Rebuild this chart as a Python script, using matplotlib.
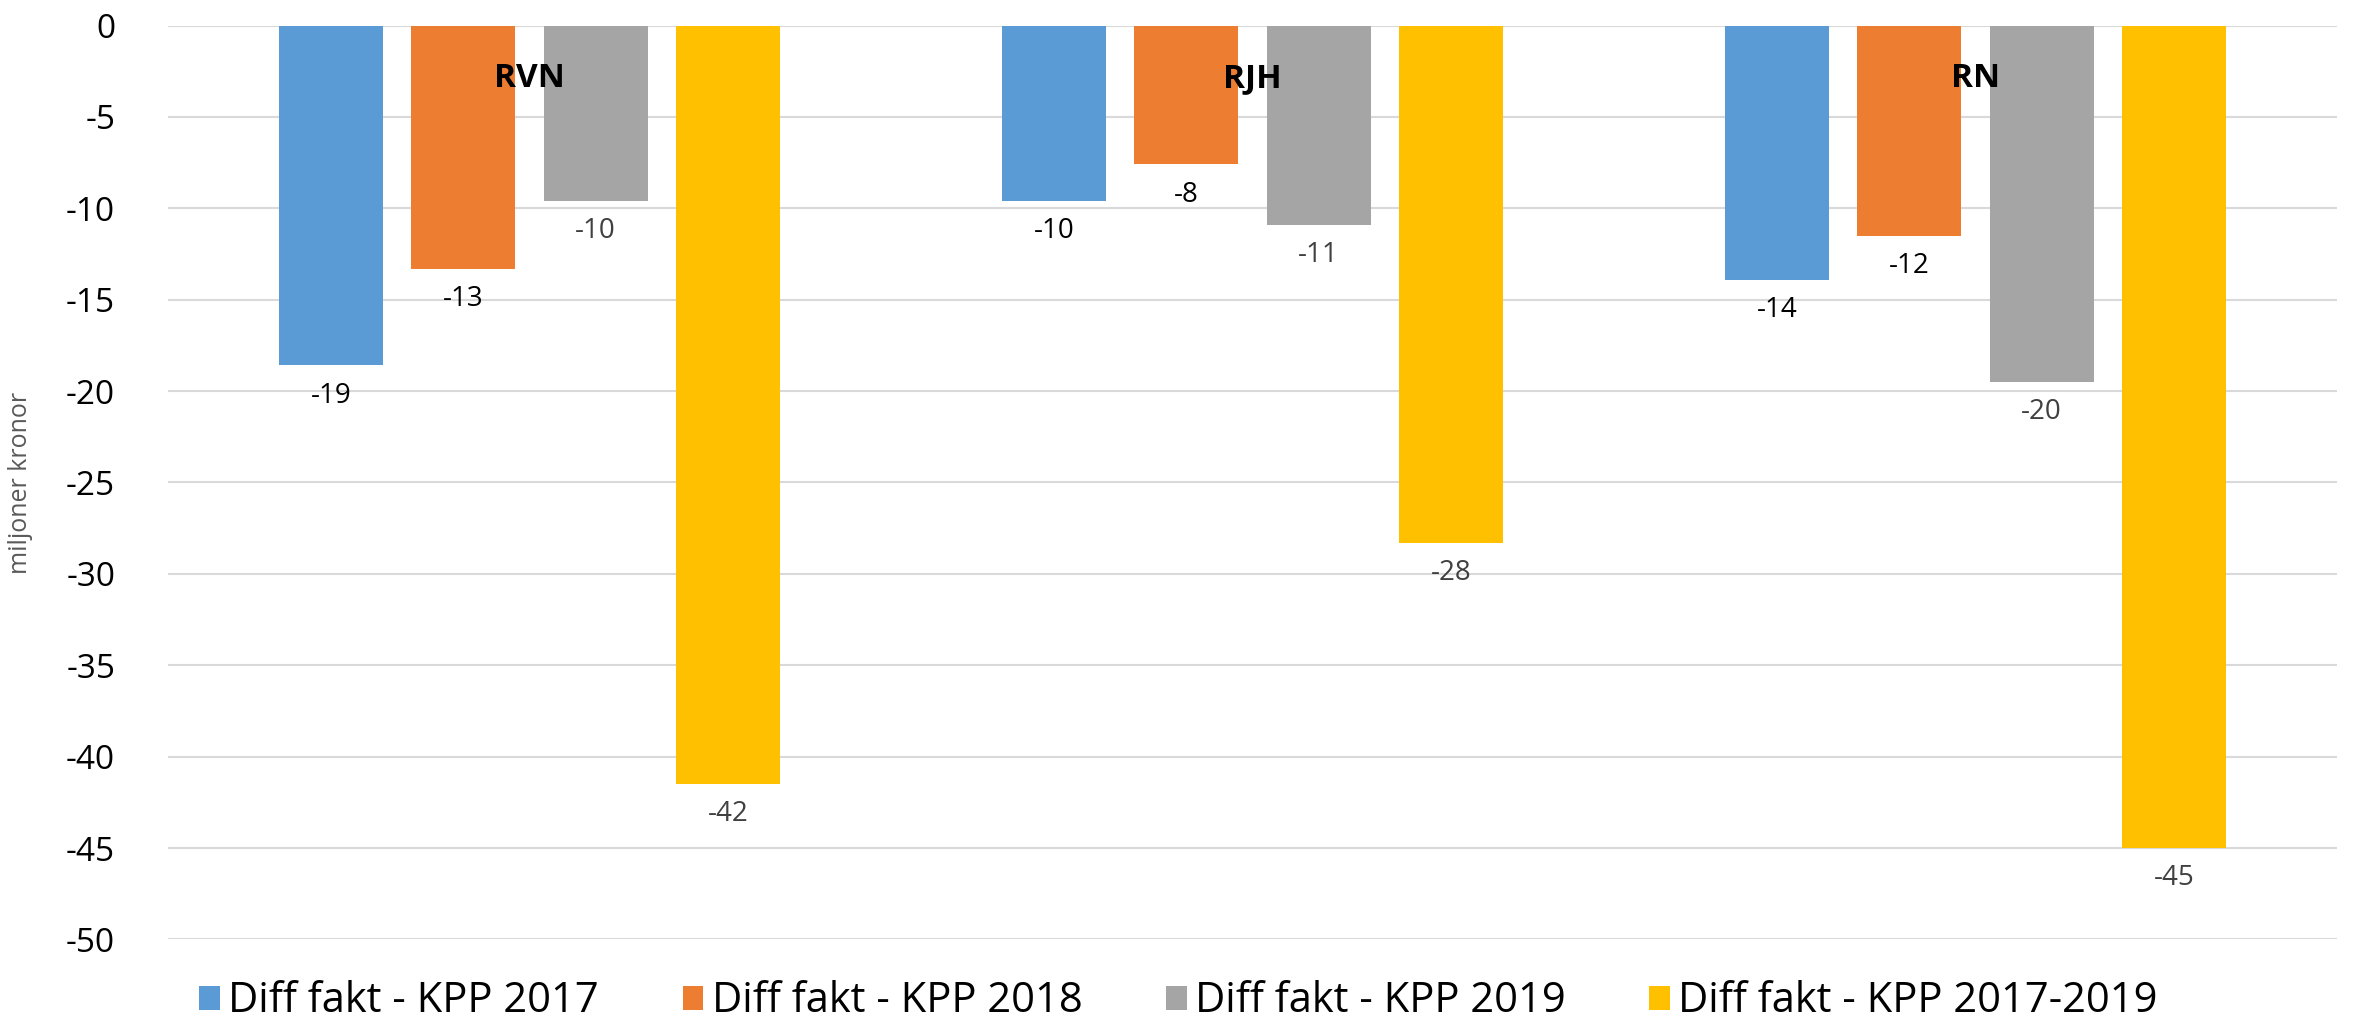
import matplotlib.pyplot as plt
import numpy as np

plt.rcParams['font.family'] = ['Open Sans', 'DejaVu Sans']
plt.rcParams['axes.unicode_minus'] = False

kategorier = ["RVN", "RJH", "RN"]
serier = ["Diff fakt - KPP 2017", "Diff fakt - KPP 2018", "Diff fakt - KPP 2019", "Diff fakt - KPP 2017-2019"]
varden = [
    [-18.6, -9.6, -13.9],
    [-13.3, -7.6, -11.5],
    [-9.6, -10.9, -19.5],
    [-41.5, -28.3, -45.0],
]
etiketter = [
    ["-19", "-10", "-14"],
    ["-13", "-8", "-12"],
    ["-10", "-11", "-20"],
    ["-42", "-28", "-45"],
]
farger = ["#5b9bd5", "#ed7d31", "#a5a5a5", "#ffc000"]
etikettfarg = ["black", "black", "#404040", "#404040"]

fig = plt.figure(figsize=(23.57, 10.24), dpi=100)
ax = fig.add_axes([168 / 2357, 84.6 / 1024, (2337 - 168) / 2357, (1024 - 25.5 - 84.6) / 1024])

x = np.arange(len(kategorier))
bredd = 0.1435
steg = 0.183
for i, (namn, v) in enumerate(zip(serier, varden)):
    pos = x + (i - 1.5) * steg
    ax.bar(pos, v, width=bredd, color=farger[i], label=namn, zorder=2)
    for px, py, txt in zip(pos, v, etiketter[i]):
        ax.text(px, py - 0.9, txt, ha="center", va="top", fontsize=20, color=etikettfarg[i])

for xi, k in zip(x, kategorier):
    ax.text(xi, -2.9, k, ha="center", va="center", fontsize=24, fontweight="bold", color="black", zorder=3)

ax.set_xlim(-0.5, 2.5)
ax.set_ylim(-50, 0)
ax.set_yticks(np.arange(-50, 1, 5))
ax.tick_params(axis="y", labelsize=24, length=0, pad=38)
ax.set_xticks([])
ax.grid(axis="y", color="#d9d9d9", linewidth=1.5, zorder=0)
for s in ax.spines.values():
    s.set_visible(False)
ax.set_ylabel("miljoner kronor", fontsize=18, color="#595959", labelpad=24)

fig.legend(loc="center", bbox_to_anchor=(0.5, 0.022), ncol=4, frameon=False,
           fontsize=30, handlelength=0.5, handleheight=0.5, handletextpad=0.2, columnspacing=2.0)

fig.savefig("out.png", dpi=100)
